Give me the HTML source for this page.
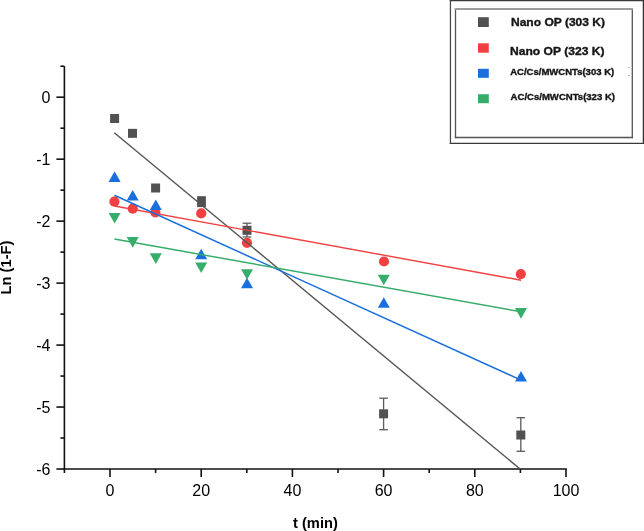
<!DOCTYPE html><html><head><meta charset="utf-8"><style>html,body{margin:0;padding:0;background:#fff;}svg{display:block;filter:grayscale(0%)}</style></head><body>
<svg width="644" height="531" viewBox="0 0 644 531" font-family="Liberation Sans, sans-serif">
<rect width="644" height="531" fill="#fff"/>
<g stroke="#111" stroke-width="1.6" fill="none" stroke-linecap="butt">
<line x1="64.40" y1="66.22" x2="64.40" y2="469.82"/>
<line x1="63.60" y1="469.02" x2="566.80" y2="469.02"/>
<line x1="60.40" y1="66.22" x2="64.40" y2="66.22"/>
<line x1="56.40" y1="97.20" x2="64.40" y2="97.20"/>
<line x1="60.40" y1="128.19" x2="64.40" y2="128.19"/>
<line x1="56.40" y1="159.17" x2="64.40" y2="159.17"/>
<line x1="60.40" y1="190.16" x2="64.40" y2="190.16"/>
<line x1="56.40" y1="221.14" x2="64.40" y2="221.14"/>
<line x1="60.40" y1="252.12" x2="64.40" y2="252.12"/>
<line x1="56.40" y1="283.11" x2="64.40" y2="283.11"/>
<line x1="60.40" y1="314.09" x2="64.40" y2="314.09"/>
<line x1="56.40" y1="345.08" x2="64.40" y2="345.08"/>
<line x1="60.40" y1="376.06" x2="64.40" y2="376.06"/>
<line x1="56.40" y1="407.05" x2="64.40" y2="407.05"/>
<line x1="60.40" y1="438.03" x2="64.40" y2="438.03"/>
<line x1="56.40" y1="469.02" x2="64.40" y2="469.02"/>
<line x1="64.40" y1="469.02" x2="64.40" y2="473.02"/>
<line x1="110.00" y1="469.02" x2="110.00" y2="477.02"/>
<line x1="155.60" y1="469.02" x2="155.60" y2="473.02"/>
<line x1="201.20" y1="469.02" x2="201.20" y2="477.02"/>
<line x1="246.80" y1="469.02" x2="246.80" y2="473.02"/>
<line x1="292.40" y1="469.02" x2="292.40" y2="477.02"/>
<line x1="338.00" y1="469.02" x2="338.00" y2="473.02"/>
<line x1="383.60" y1="469.02" x2="383.60" y2="477.02"/>
<line x1="429.20" y1="469.02" x2="429.20" y2="473.02"/>
<line x1="474.80" y1="469.02" x2="474.80" y2="477.02"/>
<line x1="520.40" y1="469.02" x2="520.40" y2="473.02"/>
<line x1="566.00" y1="469.02" x2="566.00" y2="477.02"/>
</g>
<g font-size="16" fill="#000">
<text x="50.5" y="102.70" text-anchor="end">0</text>
<text x="50.5" y="164.67" text-anchor="end">-1</text>
<text x="50.5" y="226.64" text-anchor="end">-2</text>
<text x="50.5" y="288.61" text-anchor="end">-3</text>
<text x="50.5" y="350.58" text-anchor="end">-4</text>
<text x="50.5" y="412.55" text-anchor="end">-5</text>
<text x="50.5" y="474.52" text-anchor="end">-6</text>
<text x="110.00" y="495.5" text-anchor="middle">0</text>
<text x="201.20" y="495.5" text-anchor="middle">20</text>
<text x="292.40" y="495.5" text-anchor="middle">40</text>
<text x="383.60" y="495.5" text-anchor="middle">60</text>
<text x="474.80" y="495.5" text-anchor="middle">80</text>
<text x="566.00" y="495.5" text-anchor="middle">100</text>
</g>
<text x="293" y="527.8" font-size="14.5" font-weight="bold" textLength="44.8" lengthAdjust="spacingAndGlyphs">t (min)</text>
<text transform="translate(10.8,294.5) rotate(-90)" font-size="15" font-weight="bold" textLength="54" lengthAdjust="spacingAndGlyphs">Ln (1-F)</text>
<g stroke="#5a5a5a" stroke-width="1.3"><line x1="247.0" y1="223.2" x2="247.0" y2="237.0"/><line x1="242.7" y1="223.2" x2="251.3" y2="223.2"/><line x1="242.7" y1="237.0" x2="251.3" y2="237.0"/></g>
<g stroke="#5a5a5a" stroke-width="1.3"><line x1="383.6" y1="398.2" x2="383.6" y2="429.7"/><line x1="379.3" y1="398.2" x2="387.90000000000003" y2="398.2"/><line x1="379.3" y1="429.7" x2="387.90000000000003" y2="429.7"/></g>
<g stroke="#5a5a5a" stroke-width="1.3"><line x1="520.8" y1="417.7" x2="520.8" y2="451.3"/><line x1="516.5" y1="417.7" x2="525.0999999999999" y2="417.7"/><line x1="516.5" y1="451.3" x2="525.0999999999999" y2="451.3"/></g>
<rect x="110.10" y="114.00" width="9" height="9" fill="#515151"/>
<rect x="128.00" y="128.85" width="9" height="9" fill="#515151"/>
<rect x="151.10" y="183.50" width="9" height="9" fill="#515151"/>
<rect x="242.50" y="225.80" width="9" height="9" fill="#515151"/>
<rect x="379.10" y="409.30" width="9" height="9" fill="#515151"/>
<rect x="516.30" y="430.50" width="9" height="9" fill="#515151"/>
<rect x="197.1" y="196.2" width="8.8" height="10.9" fill="#515151"/>
<circle cx="114.4" cy="201.7" r="5.1" fill="#F14040"/>
<circle cx="132.8" cy="208.7" r="5.1" fill="#F14040"/>
<circle cx="155.4" cy="212.5" r="5.1" fill="#F14040"/>
<circle cx="201.2" cy="213.4" r="5.1" fill="#F14040"/>
<circle cx="247" cy="242.8" r="5.1" fill="#F14040"/>
<circle cx="384" cy="261.5" r="5.1" fill="#F14040"/>
<circle cx="520.8" cy="274.1" r="5.1" fill="#F14040"/>
<path d="M114.60 171.30 L120.60 181.90 L108.60 181.90 Z" fill="#1A6FDF"/>
<path d="M132.70 190.00 L138.70 200.60 L126.70 200.60 Z" fill="#1A6FDF"/>
<path d="M155.80 199.50 L161.80 210.10 L149.80 210.10 Z" fill="#1A6FDF"/>
<path d="M201.20 248.70 L207.20 259.30 L195.20 259.30 Z" fill="#1A6FDF"/>
<path d="M247.00 277.70 L253.00 288.30 L241.00 288.30 Z" fill="#1A6FDF"/>
<path d="M383.80 297.20 L389.80 307.80 L377.80 307.80 Z" fill="#1A6FDF"/>
<path d="M521.00 370.90 L527.00 381.50 L515.00 381.50 Z" fill="#1A6FDF"/>
<path d="M108.60 213.00 L120.60 213.00 L114.60 223.60 Z" fill="#37AD6B"/>
<path d="M126.70 237.10 L138.70 237.10 L132.70 247.70 Z" fill="#37AD6B"/>
<path d="M149.80 253.30 L161.80 253.30 L155.80 263.90 Z" fill="#37AD6B"/>
<path d="M195.20 262.40 L207.20 262.40 L201.20 273.00 Z" fill="#37AD6B"/>
<path d="M241.00 269.20 L253.00 269.20 L247.00 279.80 Z" fill="#37AD6B"/>
<path d="M377.80 274.70 L389.80 274.70 L383.80 285.30 Z" fill="#37AD6B"/>
<path d="M515.00 308.10 L527.00 308.10 L521.00 318.70 Z" fill="#37AD6B"/>
<line x1="114.3" y1="132.7" x2="520.4" y2="469.3" stroke="#555" stroke-width="1.4"/>
<line x1="114.4" y1="206" x2="521" y2="280.2" stroke="#F14040" stroke-width="1.4"/>
<line x1="114.4" y1="195.3" x2="521" y2="380.1" stroke="#1A6FDF" stroke-width="1.5"/>
<line x1="114.4" y1="239" x2="521" y2="311.8" stroke="#37AD6B" stroke-width="1.5"/>
<rect x="450" y="0" width="194" height="144" fill="#fff"/>
<g fill="none" stroke-width="1.3">
<line x1="450.45" y1="0" x2="450.45" y2="144" stroke="#4a4a4a"/>
<line x1="449.8" y1="0.55" x2="644" y2="0.55" stroke="#3a3a3a" stroke-width="1.2"/>
<line x1="643.4" y1="0" x2="643.4" y2="144" stroke="#333" stroke-width="1.3"/>
<line x1="449.8" y1="143.3" x2="644" y2="143.3" stroke="#3a3a3a"/>
<line x1="455.5" y1="8" x2="455.5" y2="138.2" stroke="#555"/>
<line x1="632.3" y1="8" x2="632.3" y2="138.2" stroke="#555"/>
<line x1="454.8" y1="137.5" x2="633" y2="137.5" stroke="#555"/>
<line x1="454.8" y1="9" x2="633" y2="9" stroke="#9c9c9c" stroke-width="2"/>
</g>
<rect x="478" y="17.2" width="10.8" height="9.8" fill="#515151"/>
<rect x="478" y="43.3" width="10.8" height="9.4" fill="#F14040"/>
<rect x="478" y="68.8" width="10.8" height="9" fill="#1A6FDF"/>
<rect x="478" y="94.2" width="10.8" height="9" fill="#37AD6B"/>
<rect x="628" y="67" width="1.6" height="0.9" fill="#9aa"/><rect x="628" y="75" width="1.6" height="0.9" fill="#99a"/>
<g font-weight="bold" fill="#151515" stroke="#151515" stroke-width="0.35">
<text x="511" y="26.3" font-size="11.2" textLength="94" lengthAdjust="spacingAndGlyphs">Nano OP (303 K)</text>
<text x="510" y="54.7" font-size="11" textLength="94.5" lengthAdjust="spacingAndGlyphs">Nano OP (323 K)</text>
<text x="510.2" y="75.4" font-size="8.4" textLength="104" lengthAdjust="spacingAndGlyphs">AC/Cs/MWCNTs(303 K)</text>
<text x="510.6" y="100" font-size="8.4" textLength="104.4" lengthAdjust="spacingAndGlyphs">AC/Cs/MWCNTs(323 K)</text>
</g>
</svg></body></html>
